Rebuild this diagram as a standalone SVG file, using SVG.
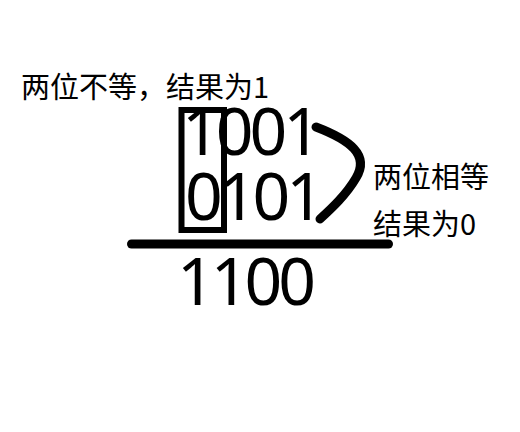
<svg xmlns="http://www.w3.org/2000/svg" width="520" height="432" viewBox="0 0 520 432">
<style>
.cn{font-family:"Noto Sans CJK SC","Noto Sans",sans-serif;font-size:29px;fill:#000}
.big{font-family:"Noto Sans",sans-serif;font-size:66px;letter-spacing:-4px;fill:#000}
.ink{fill:none;stroke:#000;stroke-linecap:round;stroke-linejoin:round}
</style>
<rect width="520" height="432" fill="#fff"/>
<g id="label-unequal"><text class="cn" x="21" y="98">两位不等，结果为1</text></g>
<g id="box"><rect x="181.5" y="110" width="42.5" height="120" fill="none" stroke="#000" stroke-width="6"/></g>
<g id="row1"><text class="big" x="182" y="155">1001</text></g>
<g id="row2"><text class="big" x="185" y="220">0101</text></g>
<g id="result"><text class="big" x="177" y="305">1100</text></g>
<g id="label-equal"><text class="cn" x="373" y="188">两位相等</text><text class="cn" x="373" y="235">结果为0</text></g>
<g id="connectors">
<path class="ink" stroke-width="9" d="M316,127 C350,140 370,155 356,178 C346,195 332,208 320,219"/>
<path class="ink" stroke-width="9" d="M131.5,244 L388.5,244"/>
</g>
</svg>
